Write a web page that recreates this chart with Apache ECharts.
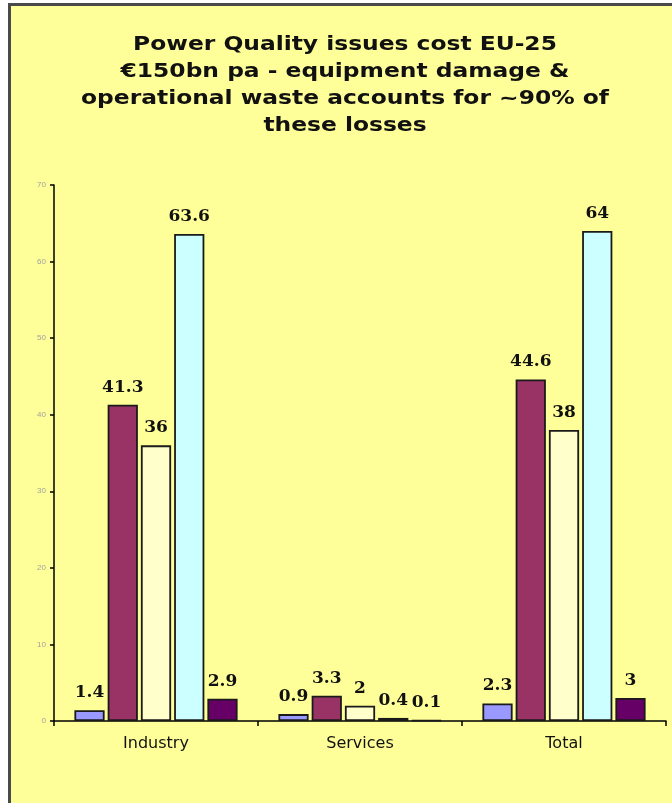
<!DOCTYPE html>
<html>
<head>
<meta charset="utf-8">
<script src="https://cdn.jsdelivr.net/npm/echarts@6/dist/echarts.min.js"></script>
<style>
html,body{margin:0;padding:0;background:#fff;}
#c{width:672px;height:803px;}
</style>
</head>
<body>
<div id="c"></div>
<script>
var categories = ['Industry', 'Services', 'Total'];
var series1 = [1.4, 0.9, 2.3];
var series2 = [41.3, 3.3, 44.6];
var series3 = [36, 2, 38];
var series4 = [63.6, 0.4, 64];
var series5 = [2.9, 0.1, 3];
var yTicks = [0, 10, 20, 30, 40, 50, 60, 70];
var titleText = 'Power Quality issues cost EU-25\n€150bn pa - equipment damage &\noperational waste accounts for ~90% of\nthese losses';

var colors = ['#9999FF', '#993366', '#FFFFCC', '#CCFFFF', '#660066'];
var names = ['Series 1', 'Series 2', 'Series 3', 'Series 4', 'Series 5'];
var data = [series1, series2, series3, series4, series5];

var chart = echarts.init(document.getElementById('c'));
var option = {
  backgroundColor: 'transparent',
  animation: false,
  graphic: [{
    type: 'rect', z: -10, silent: true,
    shape: {x: 9.5, y: 4.5, width: 720, height: 900},
    style: {fill: '#FFFF99', stroke: '#4a4a4a', lineWidth: 3}
  }, {
    type: 'text', silent: true, z: 10,
    x: 345, y: 32, scaleX: 1.23, scaleY: 1, originX: 0, originY: 0,
    style: {
      text: titleText, textAlign: 'center', textVerticalAlign: 'top',
      font: 'bold 19px "DejaVu Sans"', lineHeight: 27, fill: '#111'
    }
  }],
  grid: {left: 54, right: 6, top: 185, bottom: 82},
  xAxis: {
    type: 'category', data: categories,
    axisLine: {lineStyle: {color: '#000', width: 1.5}},
    axisTick: {show: true, length: 5, lineStyle: {color: '#000', width: 1.5}},
    axisLabel: {fontFamily: 'DejaVu Sans', fontSize: 16, color: '#111', margin: 15}
  },
  yAxis: {
    type: 'value', min: yTicks[0], max: yTicks[yTicks.length - 1], interval: 10,
    axisLine: {show: true, lineStyle: {color: '#000', width: 1.5}},
    axisTick: {show: true, length: 4, lineStyle: {color: '#000', width: 1.5}},
    splitLine: {show: false},
    axisLabel: {fontFamily: 'Liberation Sans', fontSize: 8, color: '#a0a0a0', margin: 8}
  },
  series: data.map(function (d, i) {
    return {
      name: names[i], type: 'bar', data: d,
      barGap: '10%', barCategoryGap: '20%',
      itemStyle: {color: colors[i], borderColor: '#1a1a1a', borderWidth: 1.8},
      label: {
        show: true, position: 'top', distance: 9,
        fontFamily: 'DejaVu Serif', fontWeight: 'bold', fontSize: 17, color: '#111'
      }
    };
  })
};
chart.setOption(option);
</script>
</body>
</html>
